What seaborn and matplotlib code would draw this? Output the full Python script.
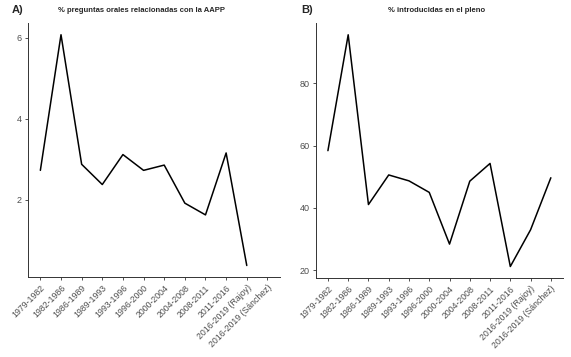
import numpy as np
import pandas as pd
import matplotlib
matplotlib.use("Agg")
import matplotlib.pyplot as plt
import seaborn as sns

# Data
PERIODS = ['1979-1982', '1982-1986', '1986-1989', '1989-1993', '1993-1996',
           '1996-2000', '2000-2004', '2004-2008', '2008-2011', '2011-2016',
           '2016-2019 (Rajoy)', '2016-2019 (Sánchez)']
PCT_ORALES = [2.73, 6.08, 2.88, 2.38, 3.12, 2.73, 2.86, 1.92, 1.63, 3.16, 0.38, np.nan]
PCT_PLENO = [58.4, 95.6, 41.1, 50.6, 48.7, 45.0, 28.4, 48.6, 54.3, 21.2, 33.0, 49.7]

TITLE_A = "% preguntas orales relacionadas con la AAPP"
TITLE_B = "% introducidas en el pleno"

sns.set_style("ticks")
plt.rcParams['font.family'] = ['Liberation Sans', 'DejaVu Sans']

df = pd.DataFrame({"pos": np.arange(len(PERIODS)), "periodo": PERIODS,
                   "orales": PCT_ORALES, "pleno": PCT_PLENO})

fig = plt.figure(figsize=(5.71, 3.57), dpi=100)
ax_a = fig.add_axes([0.049, 0.224, 0.441, 0.711])
ax_b = fig.add_axes([0.553, 0.221, 0.433, 0.714])

def style_panel(ax, col, yticks):
    sns.lineplot(data=df, x="pos", y=col, ax=ax, color="black", lw=1.1)
    vals = df[col].dropna()
    span = vals.max() - vals.min()
    ax.set_ylim(vals.min() - 0.05 * span, vals.max() + 0.05 * span)
    ax.set_xlim(-0.6, len(PERIODS) - 1 + 0.6)
    ax.set_yticks(yticks)
    ax.set_yticklabels([str(t) for t in yticks], fontsize=6.5, color="#4d4d4d")
    ax.set_xticks(df["pos"])
    ax.set_xticklabels(PERIODS, rotation=45, ha="right", rotation_mode="anchor",
                       fontsize=6.3, color="#4d4d4d")
    ax.set_xlabel("")
    ax.set_ylabel("")
    ax.tick_params(length=2.5, width=0.6, color="#333333", pad=2)
    for s in ["left", "bottom"]:
        ax.spines[s].set_color("#333333")
        ax.spines[s].set_linewidth(0.7)
    sns.despine(ax=ax)

style_panel(ax_a, "orales", [2, 4, 6])
style_panel(ax_b, "pleno", [20, 40, 60, 80])

fig.text(142 / 571, 1 - 10 / 357, TITLE_A, ha="center", va="center",
         fontsize=5.5, fontweight="bold")
fig.text(437 / 571, 1 - 10 / 357, TITLE_B, ha="center", va="center",
         fontsize=5.5, fontweight="bold")
fig.text(12 / 571, 1 - 10 / 357, "A)", ha="left", va="center",
         fontsize=8, fontweight="bold")
fig.text(301 / 571, 1 - 10 / 357, "B)", ha="left", va="center",
         fontsize=8, fontweight="bold")

fig.savefig("out.png", dpi=100)
